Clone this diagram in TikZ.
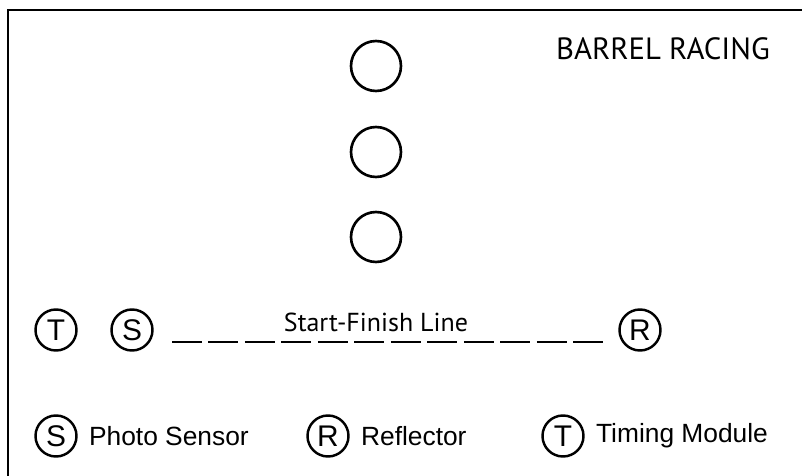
\documentclass[tikz,border=0pt]{standalone}
\usepackage{fontspec}
\setmainfont{Liberation Sans}
\newfontfamily\titlefont{PT Sans}

\begin{document}
\begin{tikzpicture}[x=0.02cm, y=-0.02cm,
    barrel/.style={circle, draw, line width=1.5pt, inner sep=0pt, minimum size=1cm},
    marker/.style={circle, draw, line width=1.4pt, inner sep=0pt, minimum size=0.82cm, font=\fontsize{17}{17}\selectfont},
    legendtext/.style={right, inner sep=0pt, font=\fontsize{15}{15}\selectfont}]
    \useasboundingbox (0,0) rectangle (802,476);

    % --- 枠 ---
    \draw[line width=1.3pt] (8,476) -- (8,10) -- (802,10);

    % --- タイトル ---
    \node[font=\titlefont\fontsize{17.5}{17.5}\selectfont] (title) at (663,49) {BARREL RACING};

    % --- バレル ---
    \foreach \y/\name in {66/b1, 152/b2, 237/b3} {
        \node[barrel] (\name) at (376,\y) {};
    }

    % --- スタート・フィニッシュライン ---
    \node[marker] (T) at (56,330) {T};
    \node[marker] (S) at (132,330) {S};
    \node[marker] (R) at (640,330) {R};
    \coordinate (lineL) at (172,342);
    \coordinate (lineR) at (604,342);
    \draw[line width=1.6pt, dash pattern=on 0.6cm off 0.13cm] (lineL) -- (lineR);
    \node[font=\titlefont\fontsize{14.8}{14.8}\selectfont] (sfl) at (376,322) {Start-Finish Line};

    % --- 凡例 ---
    \foreach \x/\letter/\label in {56/S/Photo Sensor, 328/R/Reflector, 563/T/Timing Module} {
        \node[marker] (key\letter) at (\x,436) {\letter};
        \node[legendtext] (txt\letter) at ([xshift=0.22cm]key\letter.east) {\label};
    }

\end{tikzpicture}
\end{document}
